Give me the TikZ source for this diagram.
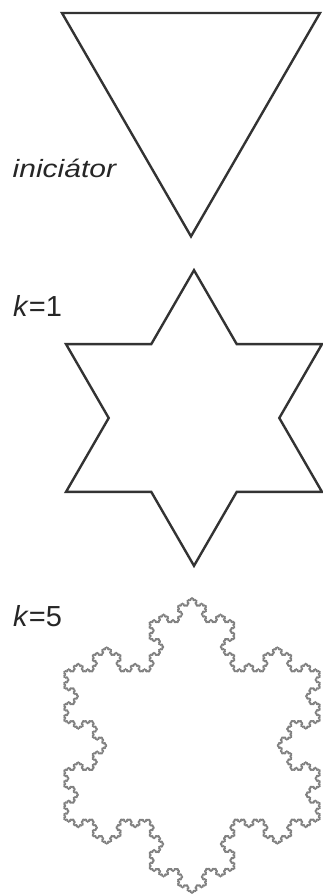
\documentclass[tikz,border=0pt]{standalone}
\usepackage{fontspec}
\setmainfont{Liberation Sans}
\usetikzlibrary{decorations.fractals}

\begin{document}
\begin{tikzpicture}[
  x=1pt, y=-1pt,
  outline/.style={line width=2.4pt, draw=black!80, line join=miter},
  flake/.style={line width=1.4pt, draw=black!50, line join=round},
  lbl/.style={font=\fontsize{29}{32}\selectfont, text=black!85, anchor=base west, inner sep=0pt},
  decoration=Koch snowflake,
]
\useasboundingbox (0,0) rectangle (323,896);

% Iniciator
\coordinate (t1) at (62,13);
\coordinate (t2) at (320,13);
\coordinate (t3) at (191,236.4);
\draw[outline] (t1) -- (t2) -- (t3) -- cycle;
\node[lbl] (ini) at (12.5,178) {\scalebox{1.2}[1]{\fontsize{25}{28}\selectfont\itshape iniciátor}};

% k=1
\draw[outline] (194,270.2) -- (236.7,344.1) -- (322,344.1) -- (279.3,418)
  -- (322,491.9) -- (236.7,491.9) -- (194,565.8) -- (151.3,491.9)
  -- (66,491.9) -- (108.7,418) -- (66,344.1) -- (151.3,344.1) -- cycle;
\node[lbl] (k1) at (13,316.5) {\textit{k}=1};

% k=5
\coordinate (f1) at (64,671.6);
\coordinate (f2) at (320,671.6);
\coordinate (f3) at (192,893.3);
\draw[flake] decorate{ decorate{ decorate{ decorate{ decorate{
  (f1) -- (f2) -- (f3) -- (f1) }}}}} -- cycle;
\node[lbl] (k5) at (13,626.5) {\textit{k}=5};

\end{tikzpicture}
\end{document}
